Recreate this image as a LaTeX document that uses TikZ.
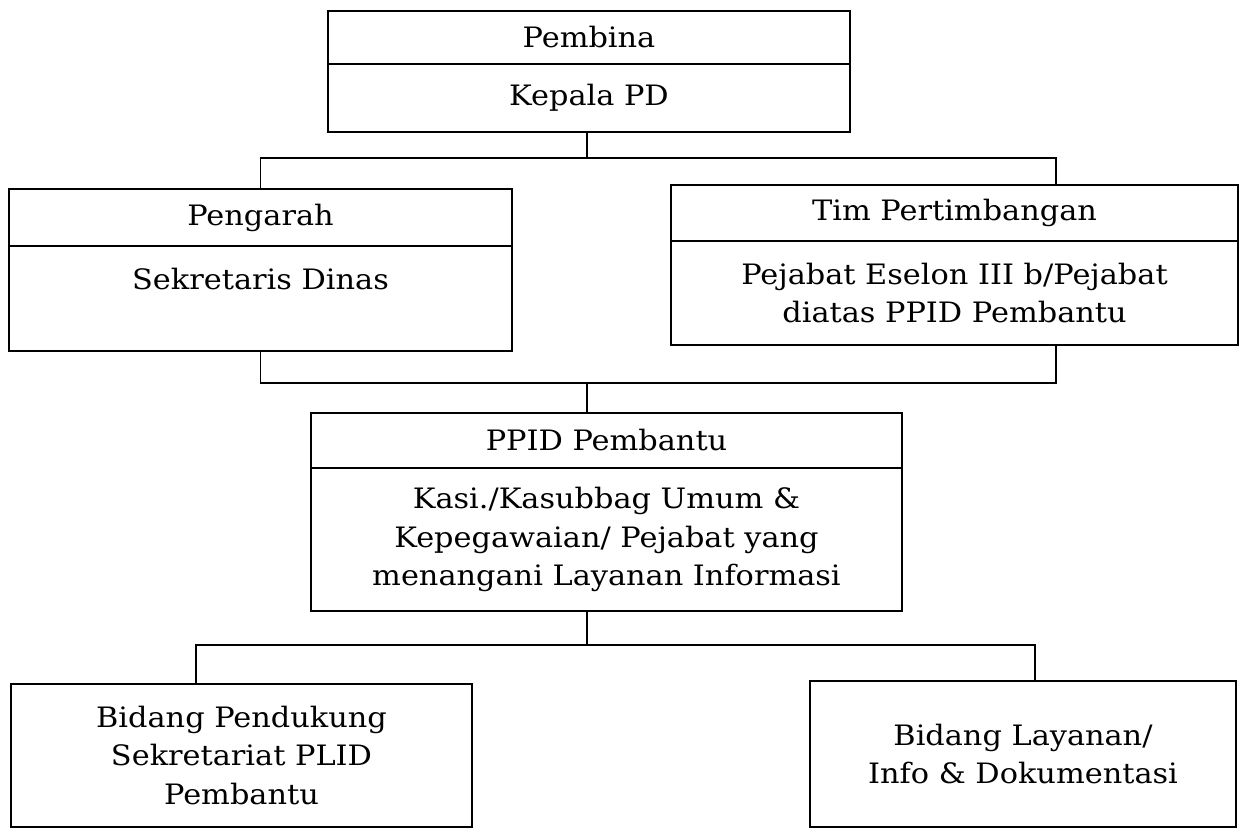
\documentclass[tikz,border=0pt]{standalone}
\usepackage{fontspec}
\setmainfont[FakeStretch=1.08]{DejaVu Serif}
\usetikzlibrary{positioning}
\tikzset{
  box/.style={draw, line width=1.1pt, align=center, inner sep=0pt, outer sep=0pt},
  link/.style={line width=1.1pt},
}
\begin{document}
\begin{tikzpicture}[x=0.02cm, y=-0.02cm, font=\fontsize{16}{22}\selectfont]
                \useasboundingbox (0,0) rectangle (1244,829);

                \node[box, anchor=north, minimum width=10.44cm, minimum height=1.06cm] (pembina) at (589,11) {Pembina};
                \node[box, minimum width=10.44cm, minimum height=1.36cm, below=0pt of pembina] (kepala) {Kepala PD};

                \node[box, anchor=north, minimum width=10.06cm, minimum height=1.14cm] (pengarah) at (260.5,189) {Pengarah};
                \node[box, minimum width=10.06cm, minimum height=2.10cm, below=0pt of pengarah] (sekdin) {Sekretaris Dinas\\ \mbox{}};

                \node[box, anchor=north, minimum width=11.34cm, minimum height=1.12cm] (tim) at (954.5,185) {Tim Pertimbangan};
                \node[box, minimum width=11.34cm, minimum height=2.08cm, below=0pt of tim] (eselon) {Pejabat Eselon III b/Pejabat\\ diatas PPID Pembantu};

                \node[box, anchor=north, minimum width=11.82cm, minimum height=1.10cm] (ppid) at (606.5,413) {PPID Pembantu};
                \node[box, minimum width=11.82cm, minimum height=2.86cm, below=0pt of ppid] (kasi) {Kasi./Kasubbag Umum \&\\ Kepegawaian/ Pejabat yang\\ menangani Layanan Informasi};

                \node[box, anchor=north, minimum width=9.22cm, minimum height=2.86cm] (pendukung) at (241.5,684) {Bidang Pendukung\\ Sekretariat PLID\\ Pembantu};
                \node[box, anchor=north, minimum width=8.52cm, minimum height=2.92cm] (layanan) at (1023,681) {Bidang Layanan/\\ Info \& Dokumentasi};

                \coordinate (j1) at (587,158);
                \coordinate (j1r) at (1056,158);
                \coordinate (j2) at (587,383);
                \coordinate (j2r) at (1056,383);
                \coordinate (j3) at (587,645);
                \coordinate (j3l) at (196,645);
                \coordinate (j3r) at (1035,645);

                \draw[link] (kepala.south -| j1) to (j1);
                \draw[link] (pengarah.north) |- (j1r) to (tim.north -| j1r);
                \draw[link] (sekdin.south) |- (j2r) to (eselon.south -| j2r);
                \draw[link] (j2) to (ppid.north -| j2);
                \draw[link] (kasi.south -| j3) to (j3);
                \draw[link] (pendukung.north -| j3l) |- (j3r) to (layanan.north -| j3r);
            \end{tikzpicture}
\end{document}
